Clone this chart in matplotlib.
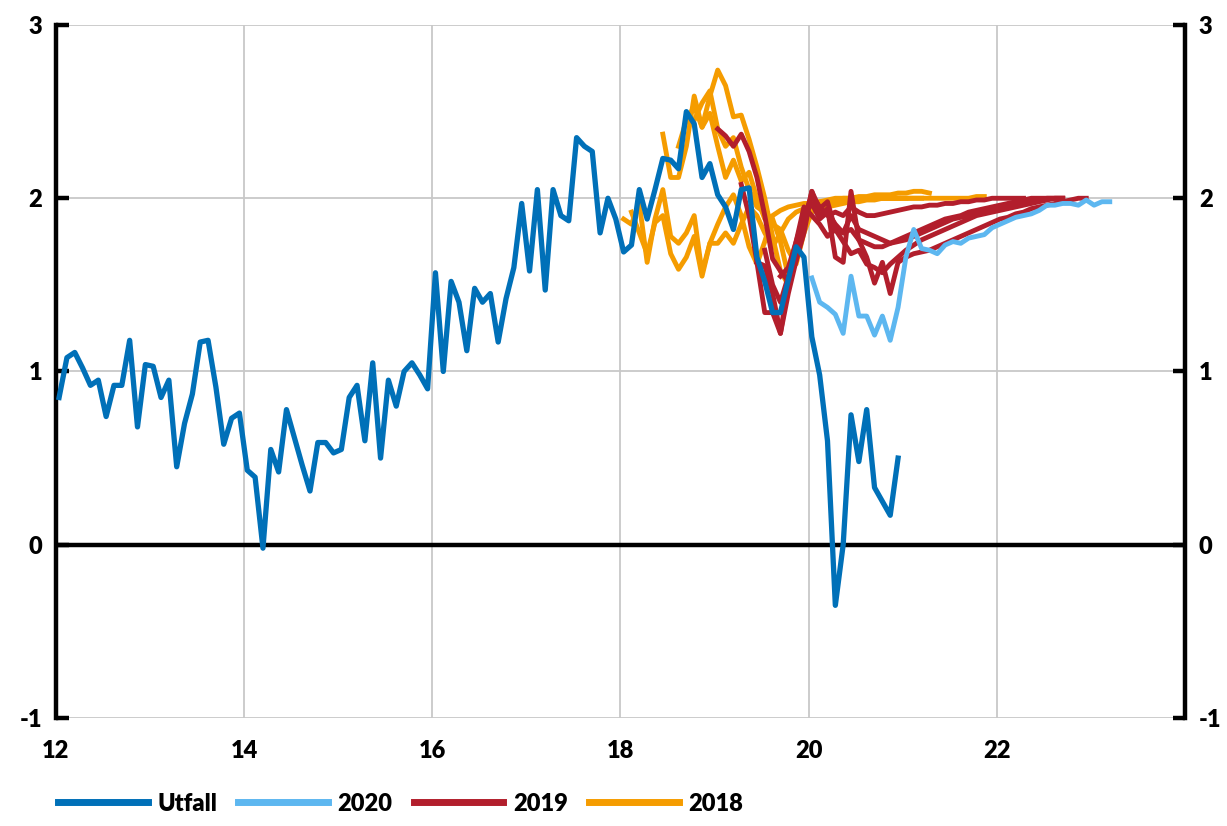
import numpy as np
import matplotlib.pyplot as plt

# Utfall, monthly from Jan 2012
utfall = [
    0.85, 1.08, 1.11, 1.02, 0.92, 0.95, 0.74, 0.92, 0.92, 1.18, 0.68, 1.04,
    1.03, 0.85, 0.95, 0.45, 0.70, 0.87, 1.17, 1.18, 0.91, 0.58, 0.73, 0.76,
    0.43, 0.39, -0.02, 0.55, 0.42, 0.78, 0.62, 0.46, 0.31, 0.59, 0.59, 0.53,
    0.55, 0.85, 0.92, 0.60, 1.05, 0.50, 0.95, 0.80, 1.00, 1.05, 0.98, 0.90,
    1.57, 1.00, 1.52, 1.40, 1.12, 1.48, 1.40, 1.45, 1.17, 1.42, 1.60, 1.97,
    1.58, 2.05, 1.47, 2.05, 1.90, 1.87, 2.35, 2.30, 2.27, 1.80, 2.00, 1.88,
    1.69, 1.73, 2.05, 1.88, 2.05, 2.23, 2.22, 2.17, 2.50, 2.43, 2.12, 2.20,
    2.02, 1.95, 1.82, 2.05, 2.06, 1.66, 1.52, 1.34, 1.34, 1.53, 1.72, 1.66,
    1.20, 0.98, 0.60, -0.35, 0.00, 0.75, 0.48, 0.78, 0.33, 0.25, 0.17, 0.50,
]

# forecast vintages: (first month index counted from Jan 2012, values)
prog_2020 = [
    (96, [1.54, 1.40, 1.37, 1.33, 1.22, 1.55, 1.32, 1.32, 1.21, 1.32, 1.18, 1.37,
          1.66, 1.82, 1.71, 1.70, 1.68, 1.73, 1.75, 1.74, 1.77, 1.78, 1.79, 1.83,
          1.85, 1.87, 1.89, 1.90, 1.91, 1.93, 1.96, 1.96, 1.97, 1.97, 1.96, 1.99,
          1.96, 1.98, 1.98]),
]

prog_2019 = [
    (84, [2.40, 2.36, 2.30, 2.37, 2.27, 2.12, 1.90, 1.65, 1.58, 1.52, 1.70, 1.88,
          2.02, 1.95, 1.90, 1.92, 1.90, 1.95, 1.92, 1.90, 1.90, 1.91, 1.92, 1.93,
          1.94, 1.95, 1.95, 1.96, 1.96, 1.97, 1.97, 1.98, 1.98, 1.99, 1.99, 2.00,
          2.00, 2.00, 2.00, 2.00]),
    (87, [2.08, 1.90, 1.63, 1.34, 1.34, 1.22, 1.51, 1.64, 1.85, 2.04, 1.94, 1.98,
          1.82, 1.80, 1.82, 1.76, 1.74, 1.72, 1.72, 1.74, 1.76, 1.78, 1.80, 1.82,
          1.84, 1.86, 1.88, 1.89, 1.90, 1.92, 1.93, 1.94, 1.95, 1.96, 1.97, 1.98,
          1.99, 2.00, 2.00, 2.00, 2.00, 2.00]),
    (89, [1.63, 1.61, 1.45, 1.22, 1.45, 1.64, 1.80, 2.04, 1.90, 1.94, 1.66, 1.63,
          2.04, 1.76, 1.66, 1.51, 1.63, 1.45, 1.63, 1.66, 1.68, 1.69, 1.70, 1.72,
          1.74, 1.76, 1.78, 1.80, 1.82, 1.84, 1.86, 1.88, 1.89, 1.91, 1.92, 1.94,
          1.95, 1.96, 1.97, 1.98, 1.99, 2.00, 2.00]),
    (90, [1.70, 1.50, 1.40, 1.55, 1.75, 1.95, 1.90, 1.85, 1.78, 1.82, 1.75, 1.68,
          1.70, 1.62, 1.60, 1.57, 1.62, 1.66, 1.70, 1.73, 1.76, 1.78, 1.80, 1.82,
          1.84, 1.86, 1.88, 1.90, 1.91, 1.92, 1.93, 1.94, 1.95, 1.96, 1.97, 1.98,
          1.99, 2.00, 2.00]),
    (92, [1.55, 1.60, 1.75, 1.90, 1.97, 1.88, 1.92, 1.85, 1.80, 1.90, 1.82, 1.80,
          1.78, 1.76, 1.74, 1.75, 1.76, 1.78, 1.80, 1.82, 1.84, 1.86, 1.88, 1.89,
          1.90, 1.91, 1.92, 1.93, 1.94, 1.95, 1.96, 1.97, 1.98, 1.99, 2.00, 2.00,
          2.00]),
]

prog_2018 = [
    (72, [1.88, 1.85, 1.97, 1.63, 1.88, 2.05, 1.78, 1.74, 1.80, 1.90, 1.57, 1.74,
          1.85, 1.95, 2.02, 1.90, 1.72, 1.62, 1.75, 1.90, 1.93, 1.95, 1.96, 1.97,
          1.97, 1.98, 1.98, 1.99, 1.99, 2.00, 2.00, 2.00, 2.00, 2.00, 2.00, 2.00]),
    (73, [1.92, 1.80, 1.68, 1.86, 1.90, 1.68, 1.59, 1.66, 1.78, 1.55, 1.74, 1.74,
          1.80, 1.74, 1.85, 1.95, 1.90, 1.80, 1.72, 1.80, 1.88, 1.92, 1.94, 1.95,
          1.96, 1.97, 1.98, 1.98, 1.99, 1.99, 2.00, 2.00, 2.00, 2.00, 2.00, 2.00,
          2.00, 2.00, 2.00, 2.00, 2.00, 2.00, 2.00, 2.00, 2.01, 2.01]),
    (77, [2.37, 2.12, 2.12, 2.30, 2.59, 2.41, 2.59, 2.74, 2.65, 2.47, 2.48, 2.34,
          2.18, 2.00, 1.78, 1.58, 1.50, 1.72, 1.88, 1.95, 1.93, 1.95, 1.96, 1.97,
          1.98, 1.98, 1.99, 1.99, 2.00, 2.00, 2.00, 2.00, 2.00, 2.00]),
    (79, [2.30, 2.45, 2.53, 2.41, 2.49, 2.30, 2.12, 2.22, 2.10, 2.15, 2.00, 1.88,
          1.85, 1.82, 1.70, 1.62, 1.80, 1.92, 1.97, 1.98, 1.99, 2.00, 2.00, 2.01,
          2.01, 2.02, 2.02, 2.02, 2.03, 2.03, 2.04, 2.04, 2.03]),
    (81, [2.45, 2.55, 2.62, 2.40, 2.30, 2.35, 2.18, 2.05, 1.95, 1.92, 1.88, 1.75,
          1.55, 1.72, 1.90, 1.97, 1.98, 1.99, 2.00, 2.00, 2.00, 2.00, 2.00, 2.00,
          2.00, 2.00, 2.00, 2.00]),
]

C_UTFALL = '#0070B8'
C_2020 = '#5DB7F0'
C_2019 = '#B21E2C'
C_2018 = '#F59C00'


def months(start, n):
    return 12 + (start + 0.4 + np.arange(n)) / 12


plt.rcParams['font.family'] = ['Lato', 'DejaVu Sans']
plt.rcParams['font.weight'] = 'heavy'
plt.rcParams['axes.unicode_minus'] = False

fig = plt.figure(figsize=(12.27, 8.26), dpi=100)
ax = fig.add_axes([0.0456, 0.1308, 0.9202, 0.8389])

lw = 3.5
for start, vals in prog_2018:
    ax.plot(months(start, len(vals)), vals, color=C_2018, lw=lw, zorder=3)
for start, vals in prog_2019:
    ax.plot(months(start, len(vals)), vals, color=C_2019, lw=lw, zorder=4)
for start, vals in prog_2020:
    ax.plot(months(start, len(vals)), vals, color=C_2020, lw=lw, zorder=5)
ax.plot(months(0, len(utfall)), utfall, color=C_UTFALL, lw=3.8, zorder=6)

ax.axhline(0, color='black', lw=3.2, zorder=2)

ax.set_xlim(12, 24)
ax.set_ylim(-1, 3)
ax.set_xticks([12, 14, 16, 18, 20, 22])
ax.set_yticks([-1, 0, 1, 2, 3])
ax.grid(True, color='#C8C8C8', lw=1.3, zorder=0)
ax.set_axisbelow(True)

for side in ['top', 'bottom']:
    ax.spines[side].set_visible(False)
for side in ['left', 'right']:
    ax.spines[side].set_linewidth(3.2)

ax.tick_params(axis='x', length=0, pad=16, labelsize=17)
ax.tick_params(axis='y', direction='in', length=9, width=3.2, labelsize=17,
               left=True, right=True, labelleft=True, labelright=True, pad=10)

handles = [plt.Line2D([], [], color=c, lw=5) for c in (C_UTFALL, C_2020, C_2019, C_2018)]
fig.legend(handles, ['Utfall', '2020', '2019', '2018'], loc='lower left',
           bbox_to_anchor=(0.03, -0.012), ncol=4, frameon=False, fontsize=17,
           handlelength=3.8, handletextpad=0.4, columnspacing=0.9)

fig.savefig('out.png', dpi=100)
